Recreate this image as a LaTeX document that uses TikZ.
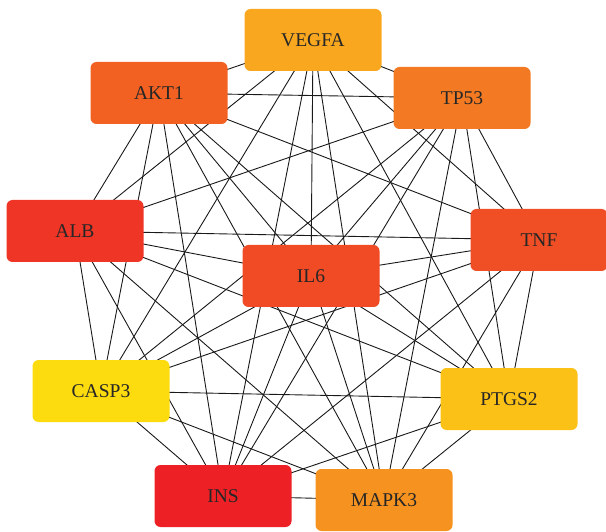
\documentclass[tikz,border=0pt]{standalone}
\usepackage{fontspec}
\setmainfont{Liberation Serif}
\usetikzlibrary{backgrounds}
\definecolor{cVEGFA}{HTML}{F9A71F}\definecolor{cAKT}{HTML}{F26122}\definecolor{cTP}{HTML}{F37A22}
\definecolor{cALB}{HTML}{EE3526}\definecolor{cTNF}{HTML}{F04E24}\definecolor{cIL}{HTML}{F04B24}
\definecolor{cCASP}{HTML}{FCDC0F}\definecolor{cPTGS}{HTML}{FCC117}\definecolor{cINS}{HTML}{ED2125}
\definecolor{cMAPK}{HTML}{F6921F}
\begin{document}
\begin{tikzpicture}[x=1pt,y=-1pt,gene/.style={rounded corners=6pt,minimum width=137pt,minimum height=62pt,inner sep=0pt,text=black!85,font=\fontsize{19.5}{21}\selectfont}]
\useasboundingbox(0,0)rectangle(606,532);
\node[gene,fill=cVEGFA](vegfa)at(313,40){VEGFA};
\node[gene,fill=cAKT](akt)at(159,93){AKT1};
\node[gene,fill=cTP](tp)at(462,98){TP53};
\node[gene,fill=cALB](alb)at(75,231){ALB};
\node[gene,fill=cTNF](tnf)at(539,240){TNF};
\node[gene,fill=cIL](il)at(311,276){IL6};
\node[gene,fill=cCASP](casp)at(101,391){CASP3};
\node[gene,fill=cPTGS](ptgs)at(509,399){PTGS2};
\node[gene,fill=cINS](ins)at(223,496){INS};
\node[gene,fill=cMAPK](mapk)at(384,500){MAPK3};
% every pair is linked
\begin{scope}[on background layer]
\foreach\u[count=\i]in{vegfa,akt,tp,alb,tnf,il,casp,ptgs,ins,mapk}{
\foreach\v[count=\j]in{vegfa,akt,tp,alb,tnf,il,casp,ptgs,ins,mapk}{
\ifnum\j>\i\draw[line width=.9pt,black!90](\u.center)--(\v.center);\fi}}
\end{scope}
\end{tikzpicture}
\end{document}
